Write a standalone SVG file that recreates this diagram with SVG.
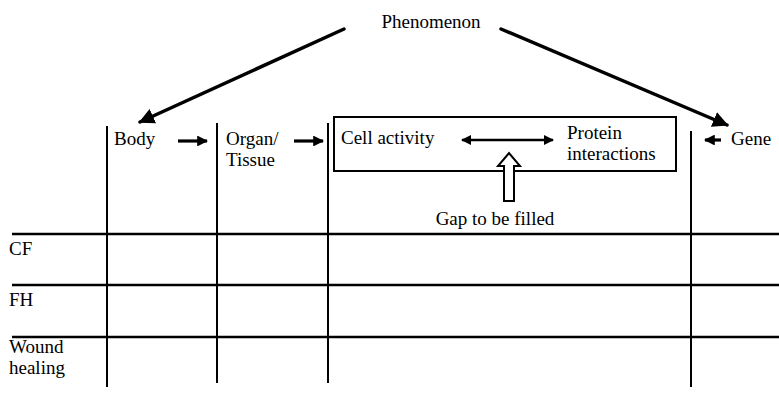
<svg xmlns="http://www.w3.org/2000/svg" width="779" height="395" viewBox="0 0 779 395">
  <style>
    .lbl { font-family: 'Liberation Serif', 'DejaVu Serif', serif; font-size: 19px; fill: #000; }
    .grid { stroke: #000; stroke-width: 2.5; fill: none; }
    .col { stroke: #000; stroke-width: 2; fill: none; }
    .diag { stroke: #000; stroke-width: 3.5; fill: none; stroke-linecap: round; }
    .step { stroke: #000; stroke-width: 3.2; fill: none; }
    .link { stroke: #000; stroke-width: 2.4; fill: none; }
  </style>
  <defs>
    <marker id="headBig" viewBox="0 0 10 10" refX="9" refY="5" markerWidth="4.5" markerHeight="4.5" markerUnits="strokeWidth" orient="auto">
      <path d="M0,0 L10,5 L0,10 z" fill="#000"/>
    </marker>
    <marker id="headSmall" viewBox="0 0 10 10" refX="9" refY="5" markerWidth="3.4" markerHeight="3.4" markerUnits="strokeWidth" orient="auto">
      <path d="M0,0 L10,5 L0,10 z" fill="#000"/>
    </marker>
    <marker id="headLink" viewBox="0 0 10 10" refX="9" refY="5" markerWidth="4.2" markerHeight="4.2" markerUnits="strokeWidth" orient="auto-start-reverse">
      <path d="M0,0 L10,5 L0,10 z" fill="#000"/>
    </marker>
  </defs>

  <!-- table frame -->
  <g id="grid">
    <line class="grid" x1="12" y1="234" x2="779" y2="234"/>
    <line class="grid" x1="12" y1="285" x2="779" y2="285"/>
    <line class="grid" x1="12" y1="337" x2="779" y2="337"/>
    <line class="col" x1="107" y1="126" x2="107" y2="387"/>
    <line class="col" x1="217" y1="123" x2="217" y2="383"/>
    <line class="col" x1="328" y1="123" x2="328" y2="383"/>
    <line class="col" x1="691" y1="131" x2="691" y2="387"/>
  </g>

  <g font-family="Liberation Serif, DejaVu Serif, serif" font-size="19">
    <!-- row labels -->
    <g id="row-cf"><text class="lbl" x="9" y="255">CF</text></g>
    <g id="row-fh"><text class="lbl" x="9" y="306">FH</text></g>
    <g id="row-wound"><text class="lbl" x="9" y="353">Wound</text><text class="lbl" x="9" y="374">healing</text></g>

    <!-- column headings -->
    <g id="phenomenon"><text class="lbl" x="431" y="28" text-anchor="middle">Phenomenon</text></g>
    <g id="body"><text class="lbl" x="114" y="145">Body</text></g>
    <g id="organ"><text class="lbl" x="226" y="145">Organ/</text><text class="lbl" x="226" y="166">Tissue</text></g>
    <g id="cell-box">
      <rect x="334" y="117" width="342" height="54" fill="none" stroke="#000" stroke-width="2"/>
      <text class="lbl" x="341" y="144">Cell activity</text>
      <text class="lbl" x="567" y="139">Protein</text>
      <text class="lbl" x="567" y="160">interactions</text>
    </g>
    <g id="gene"><text class="lbl" x="731" y="145">Gene</text></g>
    <g id="gap">
      <path d="M504,201 L504,166 L498,166 L509,153 L520,166 L514,166 L514,201 Z" fill="#fff" stroke="#000" stroke-width="2" stroke-linejoin="miter"/>
      <text class="lbl" x="495" y="225" text-anchor="middle">Gap to be filled</text>
    </g>
  </g>

  <!-- connectors -->
  <g id="connectors">
    <line class="diag" x1="344" y1="29" x2="140" y2="122" marker-end="url(#headBig)"/>
    <line class="diag" x1="501" y1="29" x2="727" y2="125" marker-end="url(#headBig)"/>
    <line class="step" x1="178" y1="141" x2="207" y2="141" marker-end="url(#headSmall)"/>
    <line class="step" x1="294" y1="141" x2="323" y2="141" marker-end="url(#headSmall)"/>
    <line class="step" x1="721" y1="140" x2="705" y2="140" marker-end="url(#headSmall)"/>
    <line class="link" x1="462" y1="140" x2="553" y2="140" marker-start="url(#headLink)" marker-end="url(#headLink)"/>
  </g>
</svg>
